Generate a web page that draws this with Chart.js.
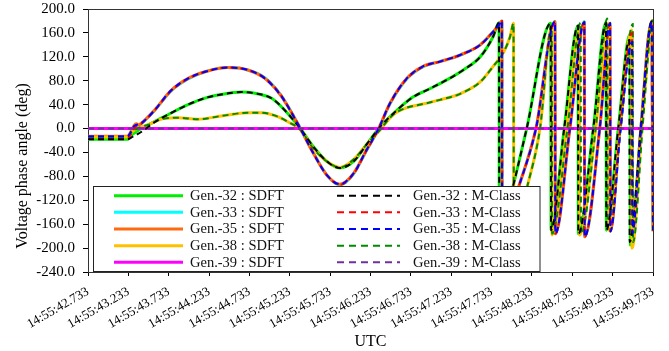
<!DOCTYPE html>
<html><head><meta charset="utf-8">
<script src="https://cdn.jsdelivr.net/npm/chart.js@4/dist/chart.umd.min.js"></script>
<style>html,body{margin:0;padding:0;background:#fff;}</style>
</head><body>
<canvas id="c" width="669" height="351"></canvas>
<script>
// time axis: seconds after 14:55:42.733
const xTickValues = [0,0.5,1,1.5,2,2.5,3,3.5,4,4.5,5,5.5,6,6.5,7];
const xTickLabels = ['14:55:42.733','14:55:43.233','14:55:43.733','14:55:44.233','14:55:44.733','14:55:45.233','14:55:45.733','14:55:46.233','14:55:46.733','14:55:47.233','14:55:47.733','14:55:48.233','14:55:48.733','14:55:49.233','14:55:49.733'];
const yMin = -240, yMax = 200, yStep = 40;
const yTitle = 'Voltage phase angle (deg)';
const xTitle = 'UTC';

const seriesNames = ['Gen.-32 : SDFT','Gen.-33 : SDFT','Gen.-35 : SDFT','Gen.-38 : SDFT','Gen.-39 : SDFT',
                     'Gen.-32 : M-Class','Gen.-33 : M-Class','Gen.-35 : M-Class','Gen.-38 : M-Class','Gen.-39 : M-Class'];

const gen32 = [[0,-18],[0.49,-18],[0.53,-12],[0.58,-7],[0.66,0],[0.83,12],[1.03,26],[1.24,40],[1.45,51],[1.65,57],[1.90,61],[2.07,59],[2.27,51],[2.40,36],[2.63,0],[2.79,-30],[2.96,-55],[3.12,-66],[3.29,-55],[3.45,-27],[3.62,3],[3.83,31],[4.03,53],[4.24,67],[4.44,81],[4.65,98],[4.86,120],[5.02,154],[5.092,177],[5.096,-178],[5.25,-105],[5.435,0],[5.733,176],[5.737,-170],[5.90,0],[6.071,172],[6.075,-176],[6.26,0],[6.418,178],[6.422,-170],[6.57,0],[6.715,158],[6.719,-195],[6.85,0],[6.984,179],[7.0,176]];
const gen33 = [[0,-17],[0.49,-17],[0.53,-10],[0.58,2],[0.66,8],[0.83,31],[1.03,63],[1.24,83],[1.45,95],[1.73,102],[1.98,98],[2.19,85],[2.38,58],[2.48,37],[2.63,1],[2.79,-40],[2.96,-78],[3.12,-94],[3.29,-76],[3.45,-37],[3.60,-1],[3.74,41],[3.95,83],[4.15,103],[4.36,112],[4.61,123],[4.86,140],[5.02,162],[5.09,173],[5.13,180],[5.134,-180],[5.33,-100],[5.55,0],[5.786,179],[5.79,-176],[5.97,0],[6.149,179],[6.153,-181],[6.34,0],[6.468,176],[6.472,-172],[6.59,0],[6.74,162],[6.744,-175],[6.85,0],[6.984,179],[7.0,-172]];
const gen35 = [[0,-13],[0.49,-13],[0.52,-8],[0.57,5],[0.60,8],[0.63,6],[0.67,10],[0.82,30],[1.03,64],[1.24,84],[1.45,95],[1.73,102],[1.98,98],[2.19,84],[2.38,57],[2.48,36],[2.63,0],[2.79,-41],[2.96,-78],[3.12,-93],[3.29,-75],[3.45,-36],[3.60,0],[3.74,42],[3.95,84],[4.15,104],[4.36,112],[4.61,123],[4.86,140],[5.02,162],[5.09,173],[5.126,180],[5.13,-180],[5.33,-100],[5.55,0],[5.786,179],[5.79,-176],[5.97,0],[6.149,178],[6.153,-181],[6.34,0],[6.468,176],[6.472,-172],[6.59,0],[6.74,162],[6.744,-175],[6.85,0],[6.984,179],[7.0,-172]];
const gen38 = [[0,-14],[0.49,-14],[0.53,-8],[0.58,-2],[0.74,6],[0.95,17],[1.12,18],[1.36,15.5],[1.65,21],[1.98,26.5],[2.15,26.5],[2.35,20],[2.48,11],[2.63,-2],[2.79,-33],[2.96,-55],[3.12,-65],[3.29,-52],[3.45,-27],[3.62,-2],[3.78,23],[3.95,35],[4.15,41],[4.36,48],[4.61,58],[4.86,78],[5.02,104],[5.15,128],[5.23,154],[5.272,176],[5.276,-180],[5.44,-98],[5.60,0],[5.745,170],[5.749,-178],[5.93,0],[6.087,165],[6.091,-178],[6.29,0],[6.447,176],[6.451,-170],[6.59,0],[6.736,165],[6.740,-200],[6.86,0],[6.98,176],[7.0,182]];
const gen39 = [[0,0],[7,0]];

const mc32 = [[0,-18],[0.49,-18],[0.55,-14],[0.62,-9],[0.70,-2],[0.83,11],[1.03,26],[1.24,40],[1.45,51],[1.65,57],[1.90,61],[2.07,59],[2.27,51],[2.40,36],[2.63,0],[2.79,-30],[2.96,-55],[3.12,-66],[3.29,-55],[3.45,-27],[3.62,3],[3.83,31],[4.03,53],[4.24,67],[4.44,81],[4.65,98],[4.86,120],[5.02,154],[5.092,177],[5.096,-178],[5.25,-105],[5.435,0],[5.733,176],[5.737,-170],[5.90,0],[6.071,172],[6.075,-176],[6.26,0],[6.418,176],[6.422,-170],[6.57,0],[6.707,148],[6.711,-190],[6.85,0],[6.984,179],[7.0,176]];
const mc33 = [[0,-17],[0.49,-17],[0.53,-10],[0.58,2],[0.66,8],[0.83,31],[1.03,63],[1.24,83],[1.45,95],[1.73,102],[1.98,98],[2.19,85],[2.38,58],[2.48,37],[2.63,1],[2.79,-40],[2.96,-78],[3.12,-94],[3.29,-76],[3.45,-37],[3.60,-1],[3.74,41],[3.95,83],[4.15,103],[4.36,112],[4.61,123],[4.86,140],[5.02,162],[5.09,173],[5.13,180],[5.134,-180],[5.33,-100],[5.55,0],[5.786,179],[5.79,-176],[5.97,0],[6.149,178],[6.153,-181],[6.34,0],[6.468,176],[6.472,-172],[6.59,0],[6.74,160],[6.744,-175],[6.85,0],[6.984,179],[7.0,-172]];
const mc35 = [[0,-13],[0.49,-13],[0.52,-8],[0.57,4],[0.62,7],[0.67,10],[0.82,30],[1.03,64],[1.24,84],[1.45,95],[1.73,102],[1.98,98],[2.19,84],[2.38,57],[2.48,36],[2.63,0],[2.79,-41],[2.96,-78],[3.12,-93],[3.29,-75],[3.45,-36],[3.60,0],[3.74,42],[3.95,84],[4.15,104],[4.36,112],[4.61,123],[4.86,140],[5.02,162],[5.09,173],[5.126,180],[5.13,-180],[5.33,-100],[5.55,0],[5.786,179],[5.79,-176],[5.97,0],[6.149,178],[6.153,-181],[6.34,0],[6.468,176],[6.472,-172],[6.60,0],[6.74,145],[6.744,-175],[6.85,0],[6.984,178],[7.0,-170]];
const mc38 = [[0,-14],[0.49,-14],[0.53,-8],[0.58,-2],[0.74,6],[0.95,17],[1.12,18],[1.36,15.5],[1.65,21],[1.98,26.5],[2.15,26.5],[2.35,20],[2.48,11],[2.63,-2],[2.79,-33],[2.96,-55],[3.12,-65],[3.29,-52],[3.45,-27],[3.62,-2],[3.78,23],[3.95,35],[4.15,41],[4.36,48],[4.61,58],[4.86,78],[5.02,104],[5.15,128],[5.23,154],[5.272,176],[5.276,-180],[5.44,-98],[5.60,0],[5.745,172],[5.749,-176],[5.94,0],[6.104,177],[6.108,-176],[6.29,0],[6.434,184],[6.438,-168],[6.60,0],[6.749,175],[6.753,-190],[6.87,0],[6.98,176],[7.0,182]];
const mc39 = [[0,0],[7,0]];

const seriesData = [gen32, gen33, gen35, gen38, gen39, mc32, mc33, mc35, mc38, mc39];
const seriesColors = ['#00ee00','#00ffff','#ff6a10','#ffc000','#ff00ff','#000000','#ff0000','#0000ff','#008a00','#7030a0'];
const drawOrder = [9, 10, 8, 7, 6, 3, 4, 2, 5, 1];

const serif = '"Liberation Serif", "Times New Roman", serif';

const datasets = seriesData.map((d, i) => ({
  label: seriesNames[i],
  data: d.map(p => ({x: p[0], y: p[1]})),
  borderColor: seriesColors[i],
  backgroundColor: seriesColors[i],
  borderWidth: i < 5 ? 3 : 2,
  borderDash: i < 5 ? [] : [6, 4],
  pointRadius: 0,
  fill: false,
  tension: 0,
  cubicInterpolationMode: 'monotone',
  order: drawOrder[i]
}));

const framePlugin = {
  id: 'frame',
  beforeDatasetsDraw(chart) {
    const a = chart.chartArea, ctx = chart.ctx;
    ctx.save();
    ctx.strokeStyle = '#333';
    ctx.lineWidth = 1;
    ctx.strokeRect(Math.round(a.left) + 0.5, Math.round(a.top) + 0.5, Math.round(a.right - a.left), Math.round(a.bottom - a.top));
    // y-axis title (placed as in the reference, slightly below the axis centre)
    ctx.translate(23, 166);
    ctx.rotate(-Math.PI / 2);
    ctx.fillStyle = '#000';
    ctx.font = '16px ' + serif;
    ctx.textAlign = 'center';
    ctx.textBaseline = 'middle';
    ctx.fillText(yTitle, 0, 0);
    ctx.restore();
  }
};

const legendPlugin = {
  id: 'boxLegend',
  afterDatasetsDraw(chart) {
    const ctx = chart.ctx;
    ctx.save();
    ctx.fillStyle = '#fff';
    ctx.fillRect(93.5, 186.5, 446.5, 85);
    ctx.strokeStyle = '#222';
    ctx.lineWidth = 1;
    ctx.strokeRect(93.5, 186.5, 446.5, 85);
    chart.data.datasets.forEach((ds, i) => {
      const col = i < 5 ? 0 : 1, row = i % 5;
      const y = 195.7 + row * 16.65;
      const x0 = col ? 337 : 114, x1 = col ? 400 : 183, tx = col ? 413 : 190;
      ctx.beginPath();
      ctx.setLineDash(col ? [7, 5] : []);
      ctx.lineWidth = col ? 2 : 3;
      ctx.strokeStyle = ds.borderColor;
      ctx.moveTo(x0, y); ctx.lineTo(x1, y);
      ctx.stroke();
      ctx.setLineDash([]);
      ctx.fillStyle = '#111';
      ctx.font = '14.5px ' + serif;
      ctx.textBaseline = 'middle';
      ctx.textAlign = 'left';
      ctx.fillText(ds.label, tx, y + 0.5);
    });
    ctx.restore();
  }
};

new Chart(document.getElementById('c'), {
  type: 'line',
  data: { datasets },
  options: {
    responsive: false,
    animation: false,
    devicePixelRatio: 1,
    layout: { padding: { top: 9, right: 16, left: 0, bottom: 0 } },
    plugins: { legend: { display: false }, tooltip: { enabled: false } },
    scales: {
      x: {
        type: 'linear', min: 0, max: 7,
        afterFit(s) { s.height = 79; s.paddingLeft = 0; s.paddingRight = 0; },
        afterBuildTicks(s) { s.ticks = xTickValues.map(v => ({ value: v })); },
        ticks: {
          callback: (v, i) => xTickLabels[i],
          autoSkip: false, maxRotation: 30, minRotation: 30,
          font: { family: serif, size: 13 }, color: '#000', padding: 8
        },
        grid: { drawOnChartArea: false, tickLength: 4, tickColor: '#000', color: '#000' },
        border: { color: '#000', width: 1 },
        title: { display: true, text: xTitle, color: '#000', font: { family: serif, size: 16 }, padding: { top: 0, bottom: 0 } }
      },
      y: {
        min: yMin, max: yMax,
        afterFit(s) { s.width = 88; s.paddingTop = 0; s.paddingBottom = 0; },
        ticks: {
          stepSize: yStep,
          callback: v => Number(v).toFixed(1),
          font: { family: serif, size: 15 }, color: '#000', padding: 8
        },
        grid: { drawOnChartArea: false, tickLength: 5, tickColor: '#000', color: '#000' },
        border: { color: '#000', width: 1 },
        title: { display: false }
      }
    }
  },
  plugins: [framePlugin, legendPlugin]
});
</script>
</body></html>
